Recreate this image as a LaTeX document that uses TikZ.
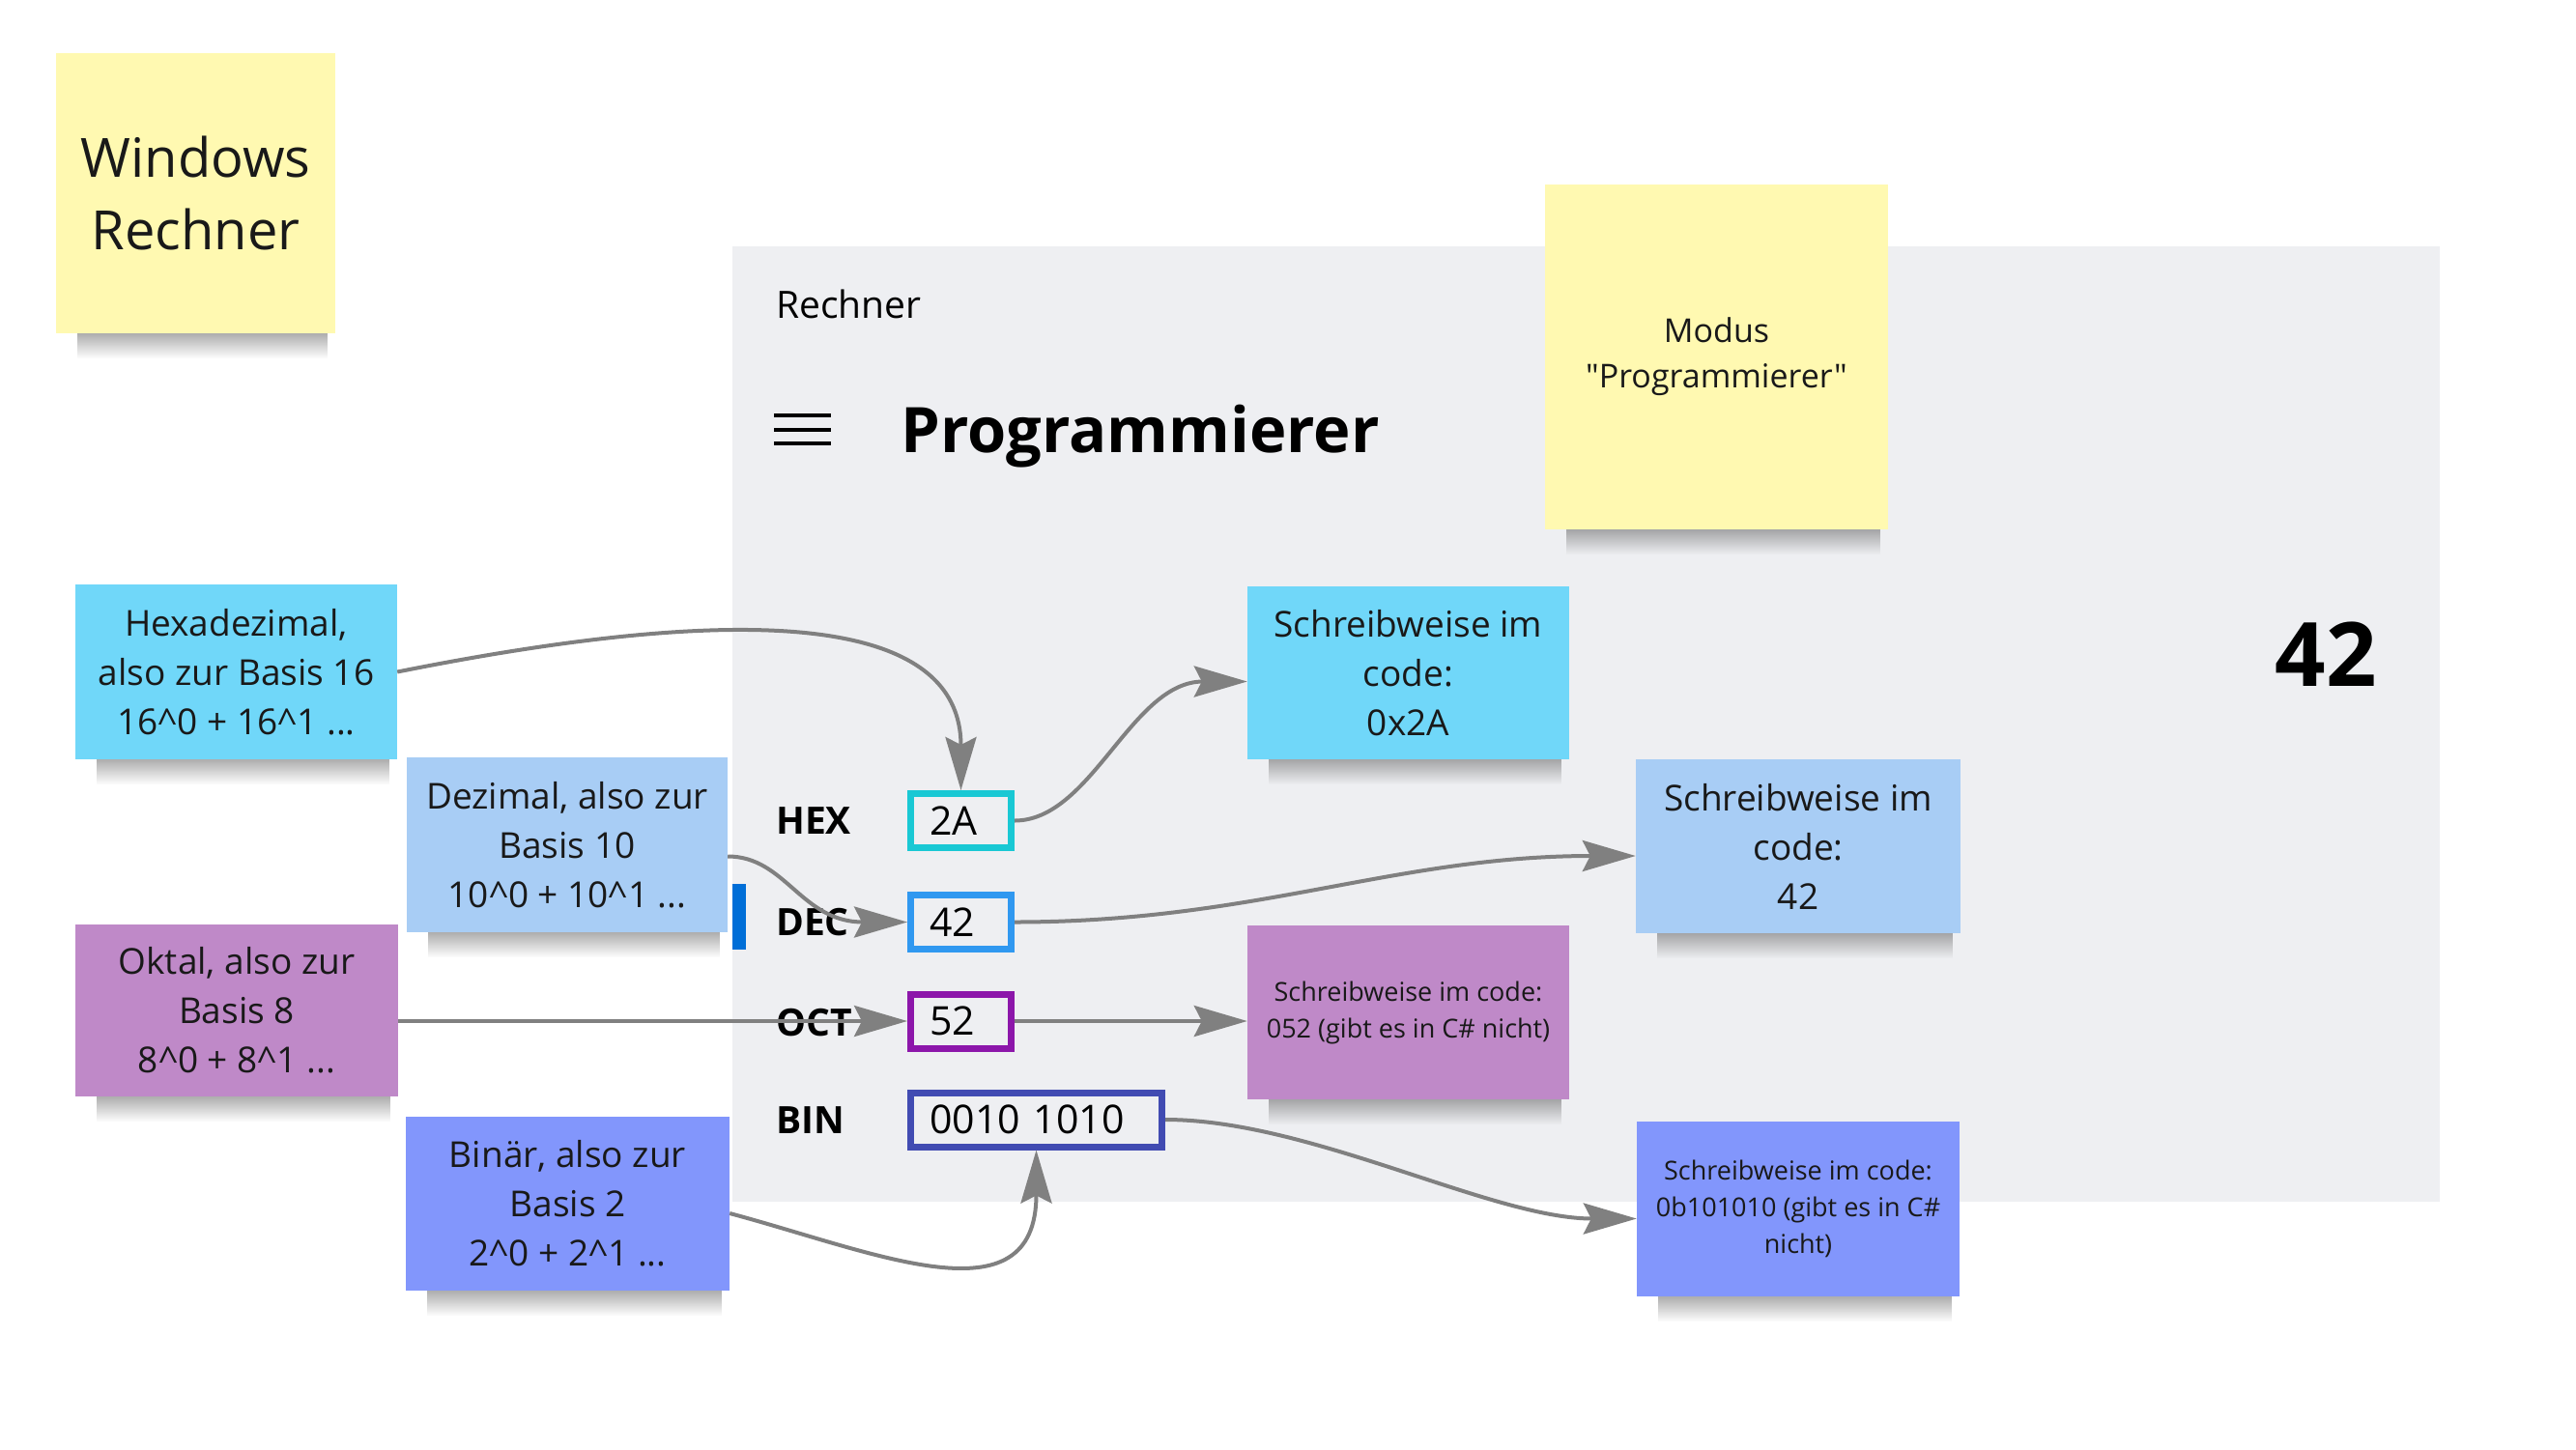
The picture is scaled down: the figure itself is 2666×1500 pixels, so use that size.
\documentclass[tikz,border=0pt]{standalone}
\usepackage{fontspec}
\setmainfont{Open Sans}[Ligatures=TeXOff]
\usetikzlibrary{arrows.meta,fadings,positioning}

\definecolor{noteyellow}{RGB}{255,249,177}
\definecolor{notecyan}{RGB}{112,215,249}
\definecolor{notesky}{RGB}{168,205,245}
\definecolor{notepurple}{RGB}{191,137,200}
\definecolor{noteblue}{RGB}{130,150,252}
\definecolor{calcgray}{RGB}{238,239,242}
\definecolor{selblue}{RGB}{0,110,215}
\definecolor{arrowgray}{RGB}{128,128,128}
\definecolor{hexcyan}{RGB}{25,200,212}
\definecolor{decblue}{RGB}{48,152,240}
\definecolor{octpurple}{RGB}{140,22,170}
\definecolor{binblue}{RGB}{65,75,178}

\pgfdeclarelayer{bg}
\pgfdeclarelayer{shadow}
\pgfsetlayers{bg,shadow,main}

\tikzfading[name=notefade, top color=transparent!55, bottom color=transparent!100]

\tikzstyle{note} = [rectangle,
                    align=center,
                    inner sep=0pt,
                    text=black!90,
                    font=\fontsize{37}{51}\selectfont]
\tikzstyle{valbox} = [rectangle,
                    draw,
                    line width=7pt,
                    anchor=west,
                    inner xsep=20pt,
                    inner ysep=0pt,
                    minimum height=56pt,
                    align=left,
                    font=\fontsize{41}{41}\selectfont]
\tikzstyle{base} = [anchor=base west,
                    inner sep=0pt,
                    font=\fontsize{39}{39}\selectfont\bfseries]
\tikzstyle{conn} = [draw=arrowgray,
                    line width=4pt,
                    -{Stealth[length=55pt,width=32pt,inset=8pt]}]

\begin{document}
\begin{tikzpicture}[x=1pt, y=-1pt]
    \useasboundingbox (0,0) rectangle (2666,1500);
    \begin{pgfonlayer}{bg}
      \fill[white] (0,0) rectangle (2666,1500);
      \fill[calcgray] (758,255) rectangle (2525,1244);
      \fill[selblue] (758,915) rectangle (772,983);
    \end{pgfonlayer}

    % calculator window
    \node (title) [anchor=base west, inner sep=0pt, font=\fontsize{39}{39}\selectfont] at (803,329) {Rechner};
    \draw[line width=4pt] (801,430) -- (860,430) (801,444.5) -- (860,444.5) (801,459) -- (860,459);
    \node (mode) [anchor=base west, inner sep=0pt, font=\fontsize{65}{65}\selectfont\bfseries] at (932,468) {Programmierer};
    \node (result) [anchor=base east, inner sep=0pt, font=\fontsize{92}{92}\selectfont\bfseries] at (2460,710) {42};

    \node (hexlbl) [base] at (803,863) {HEX};
    \node (declbl) [base] at (803,968) {DEC};
    \node (octlbl) [base] at (803,1072) {OCT};
    \node (binlbl) [base] at (803,1173) {BIN};
    \node (hex) [valbox, draw=hexcyan, text width=64pt] at (939,849.5) {2A};
    \node (dec) [valbox, draw=decblue, text width=64pt] at (939,954.5) {42};
    \node (oct) [valbox, draw=octpurple, text width=64pt] at (939,1057) {52};
    \node (bin) [valbox, draw=binblue, text width=220pt] at (939,1159) {0010 1010};

    % sticky notes
    \node (win) [note, fill=noteyellow, minimum width=289pt, minimum height=290pt,
                 font=\fontsize{56}{75}\selectfont] at (202.5,200) {Windows\\Rechner};
    \node (modus) [note, fill=noteyellow, minimum width=355pt, minimum height=357pt,
                   font=\fontsize{34}{47}\selectfont] at (1776.5,369.5) {Modus\\"Programmierer"};
    \node (hexnote) [note, fill=notecyan, minimum width=333pt, minimum height=181pt] at (244.5,695.5)
          {Hexadezimal,\\also zur Basis 16\\16\^{}0 + 16\^{}1 ...};
    \node (dec10) [note, fill=notesky, minimum width=332pt, minimum height=181pt] at (587,874.5)
          {Dezimal, also zur\\Basis 10\\10\^{}0 + 10\^{}1 ...};
    \node (oct8) [note, fill=notepurple, minimum width=334pt, minimum height=178pt] at (245,1046)
          {Oktal, also zur\\Basis 8\\8\^{}0 + 8\^{}1 ...};
    \node (bin2) [note, fill=noteblue, minimum width=335pt, minimum height=180pt] at (587.5,1246)
          {Binär, also zur\\Basis 2\\2\^{}0 + 2\^{}1 ...};
    \node (code16) [note, fill=notecyan, minimum width=333pt, minimum height=179pt] at (1457.5,696.5)
          {Schreibweise im\\code:\\0x2A};
    \node (code10) [note, fill=notesky, minimum width=336pt, minimum height=180pt] at (1861,876)
          {Schreibweise im\\code:\\42};
    \node (code8) [note, fill=notepurple, minimum width=333pt, minimum height=180pt,
                   font=\fontsize{27}{38}\selectfont] at (1457.5,1048)
          {Schreibweise im code:\\052 (gibt es in C\# nicht)};
    \node (code2) [note, fill=noteblue, minimum width=334pt, minimum height=181pt,
                   font=\fontsize{27}{38}\selectfont] at (1861,1251.5)
          {Schreibweise im code:\\0b101010 (gibt es in C\#\\nicht)};

    \begin{pgfonlayer}{shadow}
      \foreach \n in {win,modus,hexnote,dec10,oct8,bin2,code16,code10,code8,code2}
        \fill[black!70, path fading=notefade] ([xshift=22pt]\n.south west) rectangle ([xshift=-8pt,yshift=-26pt]\n.south east);
    \end{pgfonlayer}

    % connectors
    \draw[conn] (hexnote.east) .. controls +(300,-60) and +(0,-200) .. (hex.north);
    \draw[conn] (hex.east) .. controls +(80,0) and +(-120,0) .. ([yshift=-9pt]code16.west);
    \draw[conn] ([yshift=-12pt]dec10.east) .. controls +(60,0) and +(-110,0) .. (dec.west);
    \draw[conn] (dec.east) .. controls +(250,0) and +(-250,0) .. ([yshift=-10pt]code10.west);
    \draw[conn] (oct8.east |- oct.west) -- (oct.west);
    \draw[conn] (oct.east) -- (oct.east -| code8.west);
    \draw[conn] (bin.east) .. controls +(150,0) and +(-150,0) .. ([yshift=-10pt]code2.west);
    \draw[conn] ([yshift=-10pt]bin2.east) .. controls +(150,40) and +(0,180) .. (bin.south);
\end{tikzpicture}
\end{document}
